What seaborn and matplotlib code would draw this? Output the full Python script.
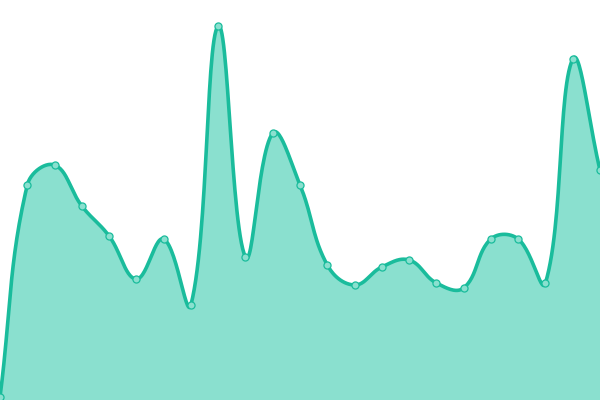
import numpy as np
import pandas as pd
import seaborn as sns
import matplotlib
matplotlib.use("Agg")
import matplotlib.pyplot as plt

# values (axis 0..400)
idx = list(range(23))
values = [3, 215, 235, 194, 164, 121, 161, 95, 374, 143, 267, 215, 135, 115,
          133, 140, 117, 112, 161, 161, 117, 341, 230]

line_col = "#1abc9c"
fill_col = "#8ae0cf"


def spline_curve(xs, ys, tension=0.4, steps=30):
    # chart.js style bezier control points
    xs = np.asarray(xs, float)
    ys = np.asarray(ys, float)
    n = len(xs)
    cps = []
    for i in range(n):
        p0 = (xs[max(i - 1, 0)], ys[max(i - 1, 0)])
        p1 = (xs[i], ys[i])
        p2 = (xs[min(i + 1, n - 1)], ys[min(i + 1, n - 1)])
        d01 = np.hypot(p1[0] - p0[0], p1[1] - p0[1])
        d12 = np.hypot(p2[0] - p1[0], p2[1] - p1[1])
        tot = d01 + d12
        s01 = d01 / tot if tot else 0
        s12 = d12 / tot if tot else 0
        fa, fb = tension * s01, tension * s12
        prev = (p1[0] - fa * (p2[0] - p0[0]), p1[1] - fa * (p2[1] - p0[1]))
        nxt = (p1[0] + fb * (p2[0] - p0[0]), p1[1] + fb * (p2[1] - p0[1]))
        cps.append((prev, nxt))
    out_x, out_y = [], []
    t = np.linspace(0, 1, steps)
    for i in range(n - 1):
        P0 = np.array([xs[i], ys[i]])
        P1 = np.array(cps[i][1])
        P2 = np.array(cps[i + 1][0])
        P3 = np.array([xs[i + 1], ys[i + 1]])
        pts = ((1 - t) ** 3)[:, None] * P0 + (3 * (1 - t) ** 2 * t)[:, None] * P1 \
            + (3 * (1 - t) * t ** 2)[:, None] * P2 + (t ** 3)[:, None] * P3
        out_x.extend(pts[:, 0])
        out_y.extend(pts[:, 1])
    return np.array(out_x), np.array(out_y)


df = pd.DataFrame({"i": idx, "v": values})

sns.set_style("white")
fig = plt.figure(figsize=(6, 4), dpi=100)
ax = fig.add_axes([0, 0, 1, 1])

# scale x to pixel-like units so the smoothing matches
sx = 599 / 22
cx, cy = spline_curve(np.array(idx) * sx, values)
cx = cx / sx

ax.fill_between(cx, cy, 0, color=fill_col, lw=0)
ax.plot(cx, cy, color=line_col, lw=2.6, solid_capstyle="round")
sns.scatterplot(data=df, x="i", y="v", ax=ax, s=26, color=fill_col,
                edgecolor=line_col, linewidth=0.9, zorder=3)

ax.set_xlim(0, 22)
ax.set_ylim(0, 400)
ax.axis("off")
fig.savefig("out.png", dpi=100)
